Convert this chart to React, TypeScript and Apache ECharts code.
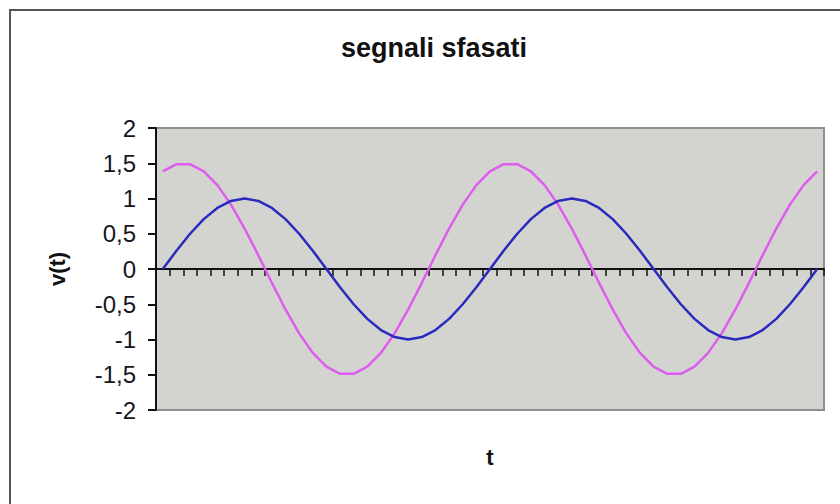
import React, { useEffect, useRef } from "react";
import * as echarts from "echarts";

const categories: string[] = [
  "0", "1", "2", "3", "4", "5", "6", "7", "8", "9", "10", "11", "12",
  "13", "14", "15", "16", "17", "18", "19", "20", "21", "22", "23", "24",
  "25", "26", "27", "28", "29", "30", "31", "32", "33", "34", "35", "36",
  "37", "38", "39", "40", "41", "42", "43", "44", "45", "46", "47", "48",
];

const blueSignal: number[] = [
  0, 0.259, 0.5, 0.707, 0.866, 0.966, 1, 0.966, 0.866, 0.707, 0.5, 0.259,
  0, -0.259, -0.5, -0.707, -0.866, -0.966, -1, -0.966, -0.866, -0.707, -0.5, -0.259,
  0, 0.259, 0.5, 0.707, 0.866, 0.966, 1, 0.966, 0.866, 0.707, 0.5, 0.259,
  0, -0.259, -0.5, -0.707, -0.866, -0.966, -1, -0.966, -0.866, -0.707, -0.5, -0.259,
  0,
];

const magentaSignal: number[] = [
  1.386, 1.487, 1.487, 1.386, 1.19, 0.913, 0.574, 0.196, -0.196, -0.574, -0.913, -1.19,
  -1.386, -1.487, -1.487, -1.386, -1.19, -0.913, -0.574, -0.196, 0.196, 0.574, 0.913, 1.19,
  1.386, 1.487, 1.487, 1.386, 1.19, 0.913, 0.574, 0.196, -0.196, -0.574, -0.913, -1.19,
  -1.386, -1.487, -1.487, -1.386, -1.19, -0.913, -0.574, -0.196, 0.196, 0.574, 0.913, 1.19,
  1.386,
];

const titleText = "segnali sfasati";
const yAxisName = "v(t)";
const xAxisName = "t";

export default function App() {
  const ref = useRef<HTMLDivElement>(null);

  useEffect(() => {
    if (!ref.current) return;
    const chart = echarts.init(ref.current, null, { renderer: "svg" });
    chart.setOption({
      animation: false,
      backgroundColor: "#ffffff",
      textStyle: { fontFamily: "Liberation Sans, Arial, sans-serif" },
      title: {
        text: titleText,
        left: 336,
        top: 29,
        textStyle: {
          fontFamily: "Liberation Sans, Arial, sans-serif",
          fontSize: 27,
          fontWeight: "bold",
          color: "#111111",
        },
      },
      graphic: [
        {
          type: "rect",
          shape: { x: 10, y: 10, width: 900, height: 600 },
          style: { fill: "none", stroke: "#555555", lineWidth: 2 },
          silent: true,
          z: 100,
        },
      ],
      grid: {
        left: 156,
        right: 16,
        top: 128,
        bottom: 94,
        outerBoundsMode: "none",
        containLabel: false,
        show: true,
        backgroundColor: "#d3d4cf",
        borderColor: "#8f8f8f",
        borderWidth: 2,
      },
      xAxis: {
        type: "category",
        data: categories,
        boundaryGap: true,
        name: xAxisName,
        nameLocation: "middle",
        nameGap: 36,
        nameTextStyle: {
          fontFamily: "Liberation Sans, Arial, sans-serif",
          fontSize: 22,
          fontWeight: "bold",
          color: "#111111",
        },
        axisLine: { onZero: true, lineStyle: { color: "#111111", width: 2 } },
        axisTick: { show: true, interval: 0, length: 7, inside: false, lineStyle: { color: "#111111", width: 1.5 } },
        axisLabel: { show: false, interval: 0 },
        splitLine: { show: false },
      },
      yAxis: {
        type: "value",
        min: -2,
        max: 2,
        interval: 0.5,
        name: yAxisName,
        nameLocation: "middle",
        nameGap: 88,
        nameRotate: 90,
        nameTextStyle: {
          fontFamily: "Liberation Sans, Arial, sans-serif",
          fontSize: 22,
          fontWeight: "bold",
          color: "#111111",
        },
        axisLine: { show: true, onZero: false, lineStyle: { color: "#111111", width: 2 } },
        axisTick: { show: true, length: 8, inside: false, lineStyle: { color: "#111111", width: 2 } },
        axisLabel: {
          margin: 20,
          showMinLabel: true,
          showMaxLabel: true,
          hideOverlap: false,
          fontFamily: "Liberation Sans, Arial, sans-serif",
          fontSize: 24,
          color: "#161620",
          formatter: (v: number) => String(v).replace(".", ","),
        },
        splitLine: { show: false },
      },
      series: [
        {
          type: "line",
          data: blueSignal,
          symbol: "none",
          smooth: false,
          lineStyle: { color: "#2a2abf", width: 2.5 },
          z: 3,
        },
        {
          type: "line",
          data: magentaSignal,
          symbol: "none",
          smooth: false,
          lineStyle: { color: "#de5cf0", width: 2.5 },
          z: 2,
        },
      ],
    });
    return () => chart.dispose();
  }, []);

  return (
    <div
      ref={ref}
      style={{ position: "absolute", left: 0, top: 0, width: 840, height: 504 }}
    />
  );
}
